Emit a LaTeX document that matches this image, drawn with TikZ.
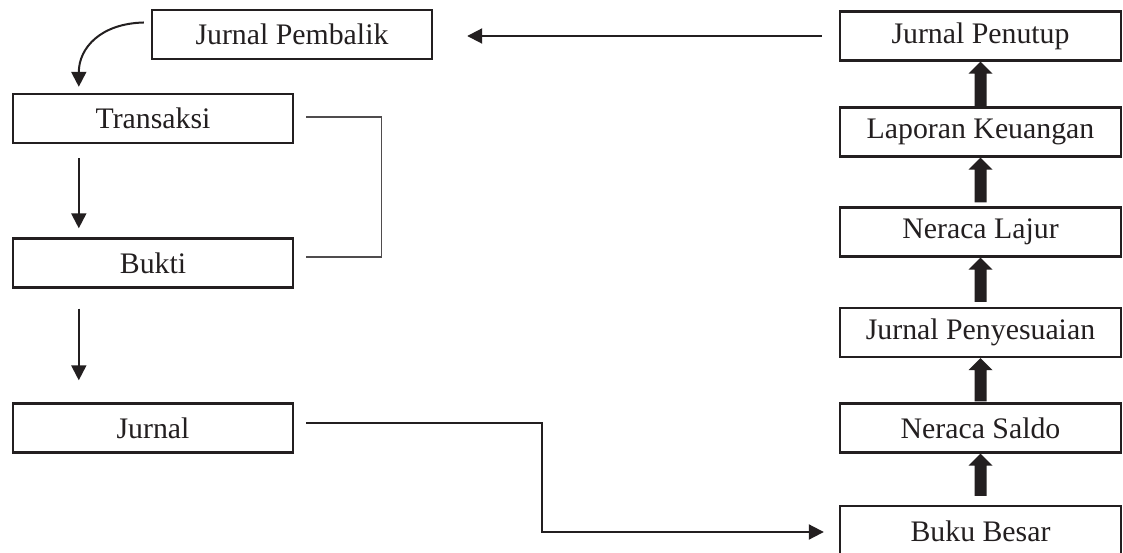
\documentclass[tikz,border=0pt]{standalone}
\usepackage{fontspec}
\setmainfont{Liberation Serif}
\usetikzlibrary{arrows.meta,calc}

\definecolor{ink}{HTML}{231F20}

% upward block arrow from a base point to a tip point (pixel units, y down)
\newcommand\blockup[2]{%
  \fill[ink] ($(#1)+(-6,0)$) -- ($(#2)+(-6,12)$) -- ($(#2)+(-12,12)$) -- (#2)
    -- ($(#2)+(12,12)$) -- ($(#2)+(6,12)$) -- ($(#1)+(6,0)$) -- cycle;}

\begin{document}
\begin{tikzpicture}[x=1pt,y=-1pt,
  box/.style={draw=ink, line width=2.4pt, rectangle, inner sep=0pt,
    minimum height=49pt, font=\fontsize{29.8}{34}\selectfont, text=ink},
  lbox/.style={box, minimum width=280pt},
  rbox/.style={box, minimum width=281pt},
  arr/.style={draw=ink, line width=2pt, -{Triangle[length=15pt,width=15pt]}},
  link/.style={draw=ink, line width=2pt},
  bracket/.style={draw=ink!80, line width=1.3pt}]

\clip (0,0) rectangle (1123,553);
\fill[white] (0,0) rectangle (1123,553);

% left column
\node[lbox] (JB) at (292,34.5) {Jurnal Pembalik};
\node[lbox] (T)  at (153,118.5) {Transaksi};
\node[lbox] (B)  at (153,263) {Bukti};
\node[lbox] (J)  at (153,428) {Jurnal};

% right column
\node[rbox] (JPt) at (980.5,36)  {Jurnal Penutup};
\node[rbox] (LK)  at (980.5,132) {Laporan Keuangan};
\node[rbox] (NL)  at (980.5,232) {Neraca Lajur};
\node[rbox] (JPy) at (980.5,332.5) {Jurnal Penyesuaian};
\node[rbox] (NS)  at (980.5,428) {Neraca Saldo};
\node[rbox, minimum height=50pt] (BB) at (980.5,531) {Buku Besar};

% left column connectors
\draw[arr] ($(JB.west)+(-7,-12)$) .. controls ($(JB.west)+(-50,-11)$) and ($(T.north west)+(67,-45)$) .. ($(T.north west)+(67,-6)$);
\draw[arr] ($(T.south west)+(67,14)$) -- ($(B.north west)+(67,-9)$);
\draw[arr] ($(B.south west)+(67,20)$) -- ($(J.north west)+(67,-22)$);
\draw[bracket] ($(T.east)+(12,-1.5)$) -- ++(75,0) |- ($(B.east)+(12,-6)$);

% Jurnal to Buku Besar
\draw[arr] ($(J.east)+(12,-5)$) -- ++(236,0) |- ($(BB.west)+(-15,1)$);

% Jurnal Penutup back to Jurnal Pembalik
\draw[arr] ($(JPt.west)+(-17,0)$) -- ($(JPt.west -| JB.east)+(34,0)$);

% block arrows up the right column
\blockup{LK.north}{JPt.south}
\blockup{$(NL.north)+(0,-4)$}{LK.south}
\blockup{$(JPy.north)+(0,-5)$}{NL.south}
\blockup{$(NS.north)+(0,-1)$}{JPy.south}
\blockup{$(BB.north)+(0,-9)$}{NS.south}

\end{tikzpicture}
\end{document}
